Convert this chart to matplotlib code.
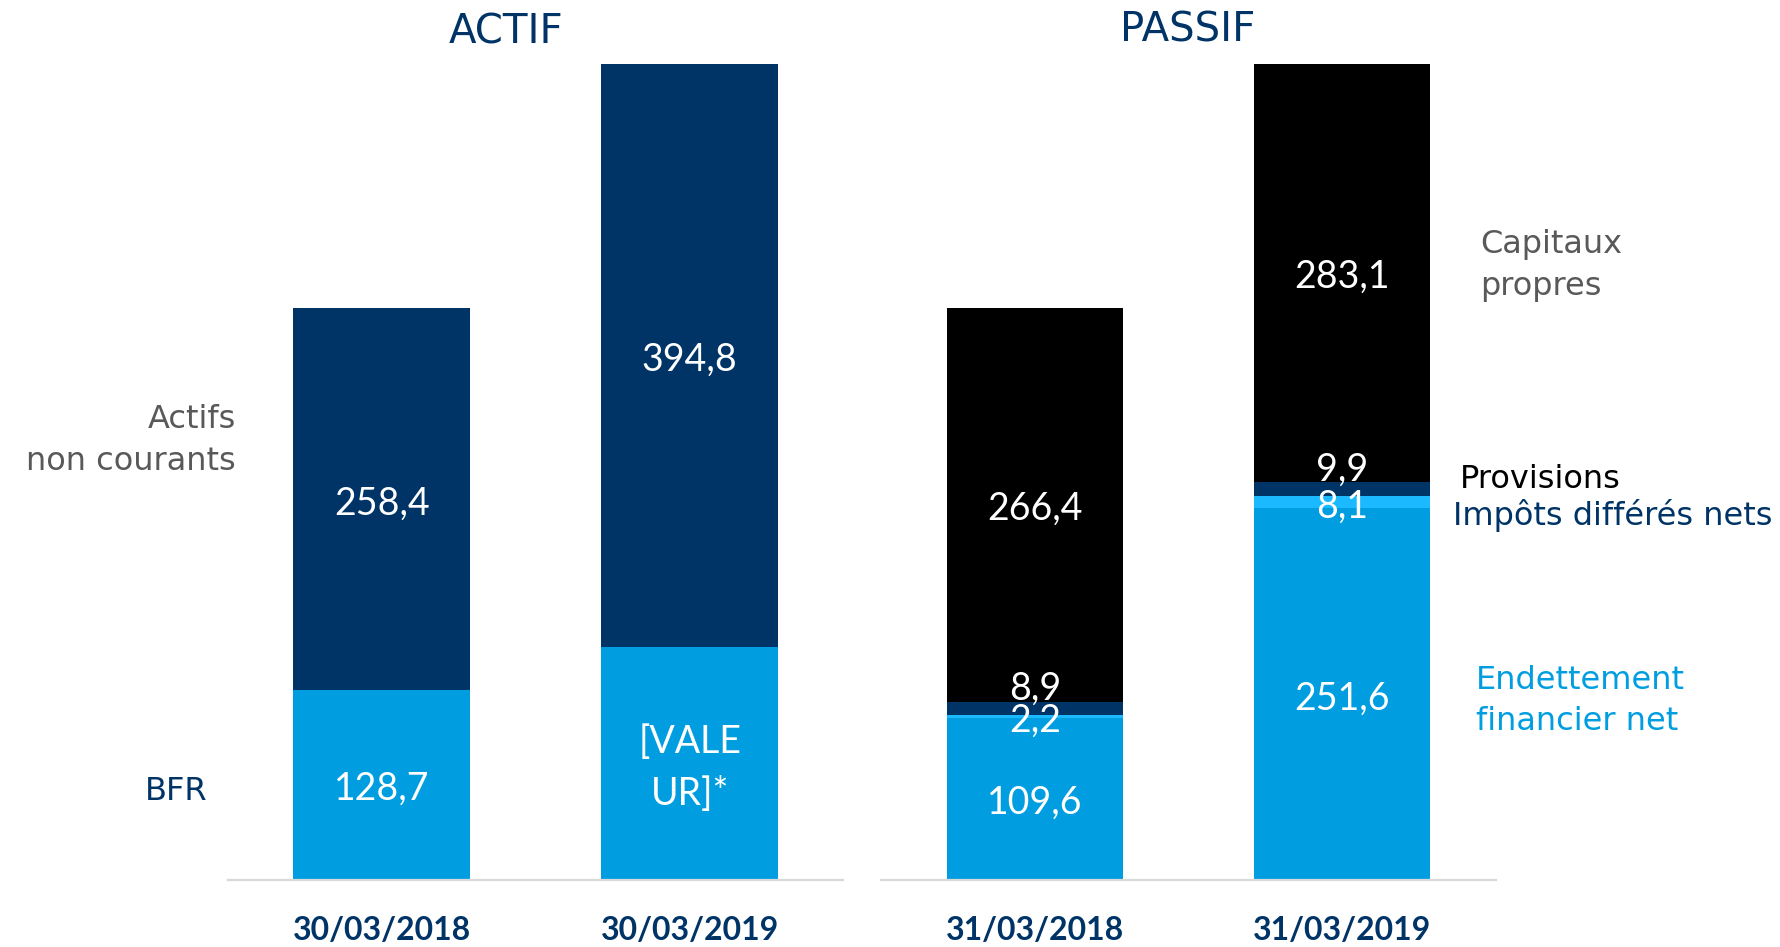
import matplotlib
matplotlib.use("Agg")
import matplotlib.pyplot as plt

# ---------------- data ----------------
actif_dates = ['30/03/2018', '30/03/2019']
bfr = [128.7, 157.5]
actifs_nc = [258.4, 394.8]
bfr_labels = ['128,7', '[VALE\nUR]*']

passif_dates = ['31/03/2018', '31/03/2019']
endettement = [109.6, 251.6]
impots = [2.2, 8.1]
provisions = [8.9, 9.9]
capitaux = [266.4, 283.1]

# ---------------- style ----------------
NAVY = '#003366'
BLUE = '#009EE0'
CYAN = '#1BB9FF'
GREY = '#595959'
AXIS_GREY = '#D9D9D9'
NUM_FONT = 'Lato'
LBL_FONT = 'DejaVu Sans'

W, H = 1780, 947
fig = plt.figure(figsize=(W / 100, H / 100), dpi=100)

def fx(x):
    return x / W

def fy(y):
    return 1 - y / H

PX_PER_UNIT = 1.477
BASE = 880

def make_axes(x0, x1, xlim):
    ax = fig.add_axes([fx(x0), fy(BASE), fx(x1) - fx(x0), BASE / H])
    ax.set_xlim(*xlim)
    ax.set_ylim(0, BASE / PX_PER_UNIT)
    for s in ['top', 'right', 'left']:
        ax.spines[s].set_visible(False)
    ax.spines['bottom'].set_color(AXIS_GREY)
    ax.spines['bottom'].set_linewidth(1.6)
    ax.set_yticks([])
    ax.tick_params(axis='x', length=0, pad=26)
    ax.patch.set_alpha(0)
    return ax

def fmt(v):
    return f"{v:.1f}".replace('.', ',')

VS = 27      # value font size
DY = -3      # value label vertical nudge (points)

def val(ax, x, y, s, dy=DY, **kw):
    ax.annotate(s, (x, y), xytext=(0, dy), textcoords='offset points',
                ha='center', va='center', color='white', fontsize=VS,
                family=NUM_FONT, **kw)

BW = 0.573

# ---------------- ACTIF ----------------
ax1 = make_axes(228, 843, (-0.499, 1.498))
xs = [0, 1]
ax1.bar(xs, bfr, width=BW, color=BLUE)
ax1.bar(xs, actifs_nc, width=BW, bottom=bfr, color=NAVY)
for i in xs:
    val(ax1, i, bfr[i] / 2, bfr_labels[i], linespacing=1.55)
    val(ax1, i, bfr[i] + actifs_nc[i] / 2, fmt(actifs_nc[i]))
ax1.set_xticks(xs)
ax1.set_xticklabels(actif_dates, fontsize=23, family=NUM_FONT, color=NAVY,
                    fontweight='bold')

# ---------------- PASSIF ----------------
ax2 = make_axes(881, 1496, (-0.502, 1.502))
b1 = [e + i for e, i in zip(endettement, impots)]
b2 = [b + p for b, p in zip(b1, provisions)]
ax2.bar(xs, endettement, width=BW, color=BLUE)
ax2.bar(xs, impots, width=BW, bottom=endettement, color=CYAN)
ax2.bar(xs, provisions, width=BW, bottom=b1, color=NAVY)
ax2.bar(xs, capitaux, width=BW, bottom=b2, color='black')
for i in xs:
    val(ax2, i, endettement[i] / 2, fmt(endettement[i]))
    val(ax2, i, endettement[i] + impots[i] / 2, fmt(impots[i]), dy=-3)
    val(ax2, i, b1[i] + provisions[i] / 2, fmt(provisions[i]), dy=14)
    val(ax2, i, b2[i] + capitaux[i] / 2, fmt(capitaux[i]))
ax2.set_xticks(xs)
ax2.set_xticklabels(passif_dates, fontsize=23, family=NUM_FONT, color=NAVY,
                    fontweight='bold')

# ---------------- titles ----------------
fig.text(fx(506), fy(32), 'ACTIF', ha='center', va='center', fontsize=29,
         color=NAVY, family=LBL_FONT)
fig.text(fx(1188), fy(30), 'PASSIF', ha='center', va='center', fontsize=29,
         color=NAVY, family=LBL_FONT)

# ---------------- side labels ----------------
LS = 23
fig.text(fx(236), fy(420), 'Actifs', ha='right', va='center', fontsize=LS,
         color=GREY, family=LBL_FONT)
fig.text(fx(236), fy(461), 'non courants', ha='right', va='center',
         fontsize=LS, color=GREY, family=LBL_FONT)
fig.text(fx(176), fy(791), 'BFR', ha='center', va='center', fontsize=LS,
         color=NAVY, family=LBL_FONT)
fig.text(fx(1480), fy(244), 'Capitaux', ha='left', va='center', fontsize=LS,
         color=GREY, family=LBL_FONT)
fig.text(fx(1480), fy(286), 'propres', ha='left', va='center', fontsize=LS,
         color=GREY, family=LBL_FONT)
fig.text(fx(1460), fy(479), 'Provisions', ha='left', va='center', fontsize=LS,
         color='black', family=LBL_FONT)
fig.text(fx(1453), fy(515), 'Impôts différés nets', ha='left', va='center',
         fontsize=LS, color=NAVY, family=LBL_FONT)
fig.text(fx(1476), fy(680), 'Endettement', ha='left', va='center',
         fontsize=LS, color=BLUE, family=LBL_FONT)
fig.text(fx(1476), fy(721), 'financier net', ha='left', va='center',
         fontsize=LS, color=BLUE, family=LBL_FONT)

fig.savefig('out.png', dpi=100)
